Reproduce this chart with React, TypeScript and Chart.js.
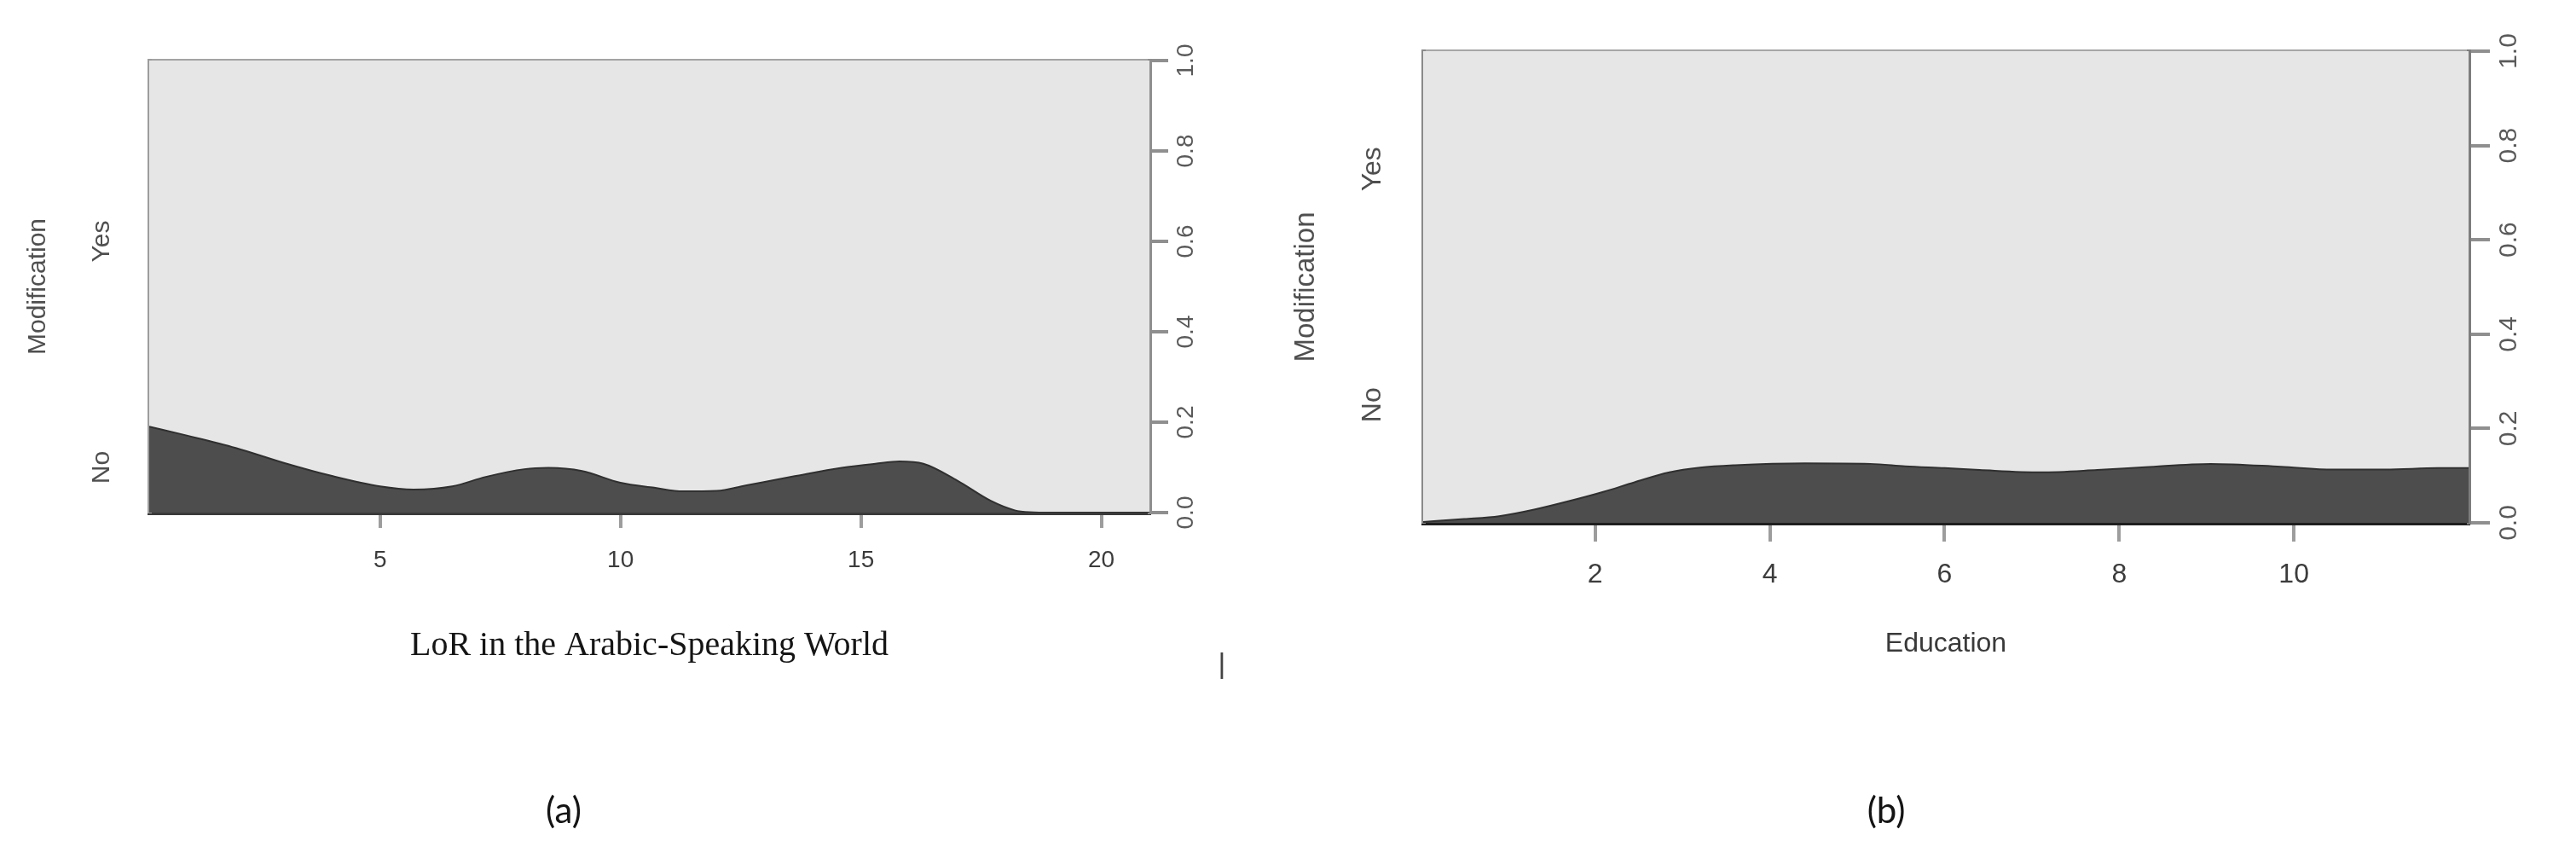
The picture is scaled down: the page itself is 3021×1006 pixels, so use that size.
import React, { useEffect, useRef } from "react";
import { Chart, registerables } from "chart.js";

Chart.register(...registerables);

// ---------- data: panel (a) LoR in the Arabic-Speaking World ----------
const lorX = [0.2, 1, 2, 3, 4, 5, 5.7, 6.5, 7.2, 8, 8.5, 9.2, 10, 10.7, 11.3, 12, 12.6, 13.6, 14.6, 15.3, 15.8, 16.3, 17, 17.7, 18.2, 18.5, 19, 20, 21];
const lorNo = [0.19, 0.17, 0.143, 0.11, 0.081, 0.058, 0.051, 0.058, 0.079, 0.096, 0.099, 0.092, 0.066, 0.055, 0.047, 0.048, 0.06, 0.08, 0.099, 0.108, 0.113, 0.108, 0.071, 0.026, 0.005, 0.001, 0, 0, 0];
const lorTicks = [5, 10, 15, 20];
const lorRange = [0.2, 21];
const lorCategoryAt = [0.1, 0.6];

// ---------- data: panel (b) Education ----------
const eduX = [0.03, 0.5, 0.9, 1.3, 1.7, 2.1, 2.45, 2.85, 3.2, 3.6, 4.4, 5.15, 5.55, 6.0, 6.4, 7.1, 7.75, 8.3, 9.05, 9.85, 10.45, 11.05, 11.65, 12.0];
const eduNo = [0.002, 0.008, 0.014, 0.028, 0.046, 0.066, 0.086, 0.107, 0.117, 0.122, 0.126, 0.125, 0.12, 0.116, 0.112, 0.107, 0.112, 0.118, 0.125, 0.119, 0.113, 0.113, 0.116, 0.116];
const eduTicks = [2, 4, 6, 8, 10];
const eduRange = [0.03, 12];
const eduCategoryAt = [0.25, 0.75];

// ---------- shared ----------
const propTicks = [0, 0.2, 0.4, 0.6, 0.8, 1.0];
const categoryLabels = ["No", "Yes"];
const yTitle = "Modification";
const lorTitle = "LoR in the Arabic-Speaking World";
const eduTitle = "Education";

const SANS = "'Liberation Sans', Arial, sans-serif";
const SERIF = "'Liberation Serif', 'Times New Roman', serif";
const LH = 1.2;

function measure(text: string, size: number, family: string) {
  const c = document.createElement("canvas").getContext("2d") as CanvasRenderingContext2D;
  c.font = `${size}px ${family}`;
  return c.measureText(text).width;
}

type Spec = {
  left: number;
  width: number;
  height: number;
  area: { left: number; top: number; right: number; bottom: number };
  xs: number[];
  ys: number[];
  xTicks: number[];
  xRange: number[];
  catAt: number[];
  xTitle: string;
  xTitleFamily: string;
  xTitleSize: number;
  xTitleY: number;
  xTitleColor: string;
  tickSize: number;
  tickY: number;
  xTickLen: number;
  rightSize: number;
  rightLabelX: number;
  rightTickLen: number;
  catSize: number;
  catX: number;
  modSize: number;
  modX: number;
  frame: { top: string; left: string; bottom: string; right: string };
};

const specA: Spec = {
  left: 0,
  width: 1500,
  height: 1006,
  area: { left: 175, top: 71, right: 1348, bottom: 601 },
  xs: lorX,
  ys: lorNo,
  xTicks: lorTicks,
  xRange: lorRange,
  catAt: lorCategoryAt,
  xTitle: lorTitle,
  xTitleFamily: SERIF,
  xTitleSize: 40,
  xTitleY: 757,
  xTitleColor: "#151515",
  tickSize: 28,
  tickY: 657,
  xTickLen: 18,
  rightSize: 28,
  rightLabelX: 1391,
  rightTickLen: 22,
  catSize: 30,
  catX: 120,
  modSize: 30,
  modX: 45,
  frame: { top: "#a3a3a3", left: "#9c9c9c", bottom: "#3a3a3a", right: "#8e8e8e" },
};

const specB: Spec = {
  left: 1500,
  width: 1521,
  height: 1006,
  area: { left: 169, top: 60, right: 1395, bottom: 613 },
  xs: eduX,
  ys: eduNo,
  xTicks: eduTicks,
  xRange: eduRange,
  catAt: eduCategoryAt,
  xTitle: eduTitle,
  xTitleFamily: SANS,
  xTitleSize: 32,
  xTitleY: 755,
  xTitleColor: "#3a3a3a",
  tickSize: 32,
  tickY: 674,
  xTickLen: 22,
  rightSize: 30,
  rightLabelX: 1443,
  rightTickLen: 25,
  catSize: 32,
  catX: 110,
  modSize: 33,
  modX: 32,
  frame: { top: "#a6a6a6", left: "#8a8a8a", bottom: "#1e1e1e", right: "#7d7d7d" },
};

function buildConfig(s: Spec): any {
  const topH = 10;
  const rightWidest = Math.max(...propTicks.map((v) => measure(v.toFixed(1), s.rightSize, SANS)));
  const catWidest = Math.max(...categoryLabels.map((t) => measure(t, s.catSize, SANS)));
  const points = s.xs.map((x, i) => ({ x, y: s.ys[i] }));
  return {
    type: "line",
    data: {
      datasets: [
        {
          label: "No",
          data: points,
          fill: "origin",
          backgroundColor: "#4d4d4d",
          borderColor: "#303030",
          borderWidth: 2,
          pointRadius: 0,
          cubicInterpolationMode: "monotone",
          xAxisID: "x",
          yAxisID: "y",
        },
        {
          label: "Yes",
          data: points,
          fill: "end",
          backgroundColor: "#e6e6e6",
          borderWidth: 0,
          pointRadius: 0,
          cubicInterpolationMode: "monotone",
          xAxisID: "x",
          yAxisID: "y",
        },
      ],
    },
    options: {
      responsive: false,
      animation: false,
      events: [],
      layout: { padding: { left: 0, right: 0, bottom: 0, top: s.area.top - topH } },
      plugins: { legend: { display: false }, tooltip: { enabled: false } },
      scales: {
        x: {
          type: "linear",
          position: "bottom",
          min: s.xRange[0],
          max: s.xRange[1],
          afterBuildTicks: (sc: any) => {
            sc.ticks = s.xTicks.map((v) => ({ value: v }));
          },
          afterFit: (sc: any) => {
            sc.height = s.height - s.area.bottom;
          },
          grid: { drawOnChartArea: false, drawTicks: true, tickLength: s.xTickLen, color: "#9d9d9d", lineWidth: 4 },
          border: { display: true, color: s.frame.bottom, width: 5 },
          ticks: {
            font: { family: SANS, size: s.tickSize },
            color: "#3c3c3c",
            padding: s.tickY - s.area.bottom - s.xTickLen - (s.tickSize * LH) / 2,
            maxRotation: 0,
            minRotation: 0,
            autoSkip: false,
          },
          title: {
            display: true,
            text: s.xTitle,
            font: { family: s.xTitleFamily, size: s.xTitleSize },
            color: s.xTitleColor,
            padding: { top: 0, bottom: s.height - s.xTitleY - (s.xTitleSize * LH) / 2 },
          },
        },
        xTop: {
          type: "linear",
          position: "top",
          min: s.xRange[0],
          max: s.xRange[1],
          afterFit: (sc: any) => {
            sc.height = topH;
          },
          grid: { display: false, drawTicks: false },
          ticks: { display: false },
          border: { display: true, color: s.frame.top, width: 5 },
        },
        yL: {
          type: "linear",
          position: "left",
          min: 0,
          max: 1,
          afterBuildTicks: (sc: any) => {
            sc.ticks = s.catAt.map((v) => ({ value: v }));
          },
          afterFit: (sc: any) => {
            sc.width = s.area.left;
          },
          grid: { display: false, drawTicks: false },
          border: { display: true, color: s.frame.left, width: 5 },
          ticks: {
            callback: (_v: any, i: number) => categoryLabels[i],
            minRotation: 90,
            maxRotation: 90,
            crossAlign: "center",
            padding: s.area.left - s.catX - catWidest / 2,
            font: { family: SANS, size: s.catSize },
            color: "#4f4f4f",
            autoSkip: false,
          },
          title: {
            display: true,
            text: yTitle,
            font: { family: SANS, size: s.modSize },
            color: "#4f4f4f",
            padding: { top: s.modX - (s.modSize * LH) / 2, bottom: 0 },
          },
        },
        y: {
          type: "linear",
          position: "right",
          min: 0,
          max: 1,
          afterBuildTicks: (sc: any) => {
            sc.ticks = propTicks.map((v) => ({ value: v }));
          },
          afterFit: (sc: any) => {
            sc.width = s.width - s.area.right;
          },
          grid: { drawOnChartArea: false, drawTicks: true, tickLength: s.rightTickLen, color: "#8f8f8f", lineWidth: 4 },
          border: { display: true, color: s.frame.right, width: 5 },
          ticks: {
            callback: (v: any) => Number(v).toFixed(1),
            minRotation: 90,
            maxRotation: 90,
            crossAlign: "center",
            padding: s.rightLabelX - s.area.right - s.rightTickLen - rightWidest / 2,
            font: { family: SANS, size: s.rightSize },
            color: "#5a5a5a",
            autoSkip: false,
          },
        },
      },
    },
  };
}

function Panel({ spec }: { spec: Spec }) {
  const ref = useRef<HTMLCanvasElement>(null);
  useEffect(() => {
    const chart = new Chart(ref.current as HTMLCanvasElement, buildConfig(spec));
    return () => chart.destroy();
  }, [spec]);
  return (
    <canvas
      ref={ref}
      width={spec.width}
      height={spec.height}
      style={{ position: "absolute", left: spec.left, top: 0, width: spec.width, height: spec.height }}
    />
  );
}

const captionStyle: React.CSSProperties = {
  position: "absolute",
  transform: "translate(-50%, -50%)",
  fontFamily: "Lato, 'Open Sans', sans-serif",
  fontSize: 42,
  lineHeight: 1,
  color: "#141414",
  whiteSpace: "nowrap",
};

export default function App() {
  useEffect(() => {
    document.body.style.margin = "0";
  }, []);
  return (
    <div style={{ position: "absolute", left: 0, top: 0, width: 3021, height: 1006, background: "#ffffff", overflow: "hidden" }}>
      <Panel spec={specA} />
      <Panel spec={specB} />
      <div style={{ ...captionStyle, left: 661, top: 949 }}>(a)</div>
      <div style={{ ...captionStyle, left: 2212, top: 949 }}>(b)</div>
      <div style={{ ...captionStyle, left: 1433, top: 777, fontFamily: SANS, fontSize: 34, color: "#444" }}>|</div>
    </div>
  );
}
